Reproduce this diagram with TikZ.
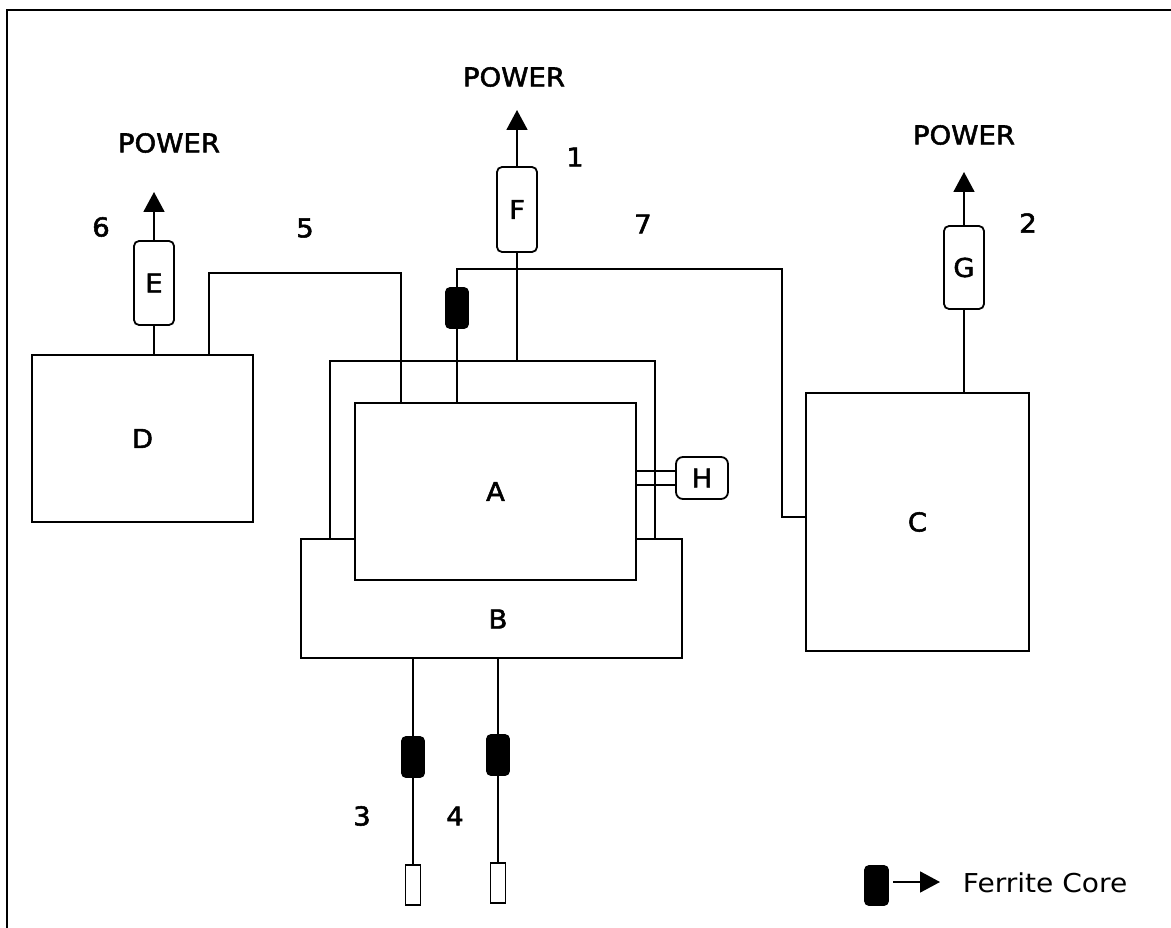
\documentclass[tikz,border=0pt]{standalone}
\usepackage{fontspec}
\setmainfont{DejaVu Sans}[FakeStretch=1.06,FakeBold=2]
\newfontfamily\legendfont{DejaVu Sans}[FakeStretch=1.08]
\usetikzlibrary{arrows.meta}
\begin{document}
\begin{tikzpicture}[x=1pt,y=-1pt,line width=1.8pt,
  lbl/.style={font=\fontsize{26}{30}\selectfont,inner sep=0pt},
  blk/.style={draw,fill=white,inner sep=0pt,font=\fontsize{26}{30}\selectfont},
  filt/.style={draw,fill=white,rounded corners=5pt,inner sep=0pt,minimum width=40pt,minimum height=84pt,font=\fontsize{26}{30}\selectfont},
  ferrite/.style={draw,fill=black,rounded corners=4pt,inner sep=0pt,minimum width=22pt,minimum height=40pt},
  plug/.style={draw,fill=white,inner sep=0pt,minimum width=15pt,minimum height=40pt,line width=1.4pt},
  pwr/.style={-{Triangle[length=20pt,width=21pt]}}]
\path[use as bounding box] (0,0) rectangle (1171,928);
% frame
\draw (7,928) -- (7,10) -- (1171,10);

% D and E
\node[blk,minimum width=221pt,minimum height=167pt] (D) at (142.5,438.5) {D};
\node[filt] (E) at (154,283) {E};
\coordinate (Etip) at (154,192);
\draw (E.south) -- (D.north -| E.south);
\draw[pwr] (E.north) -- (Etip);
\node[lbl] (pw1) at (169,143) {POWER};
\node[lbl] (n6) at (101,227) {6};
\node[lbl] (n5) at (305,228) {5};

% B, frame of A, A
\node[blk,minimum width=381pt,minimum height=119pt] (B) at (491.5,598.5) {};
\node[lbl] (Blbl) at (498,619) {B};
\coordinate (Ubl) at (330,539);
\coordinate (Utl) at (330,361);
\coordinate (Utr) at (655,361);
\coordinate (Ubr) at (655,539);
\draw (Ubl) -- (Utl) -- (Utr) -- (Ubr);
\node[blk,minimum width=281pt,minimum height=177pt] (A) at (495.5,491.5) {A};

% C
\node[blk,minimum width=223pt,minimum height=258pt] (C) at (917.5,522) {C};

% line 5
\coordinate (c5a) at (209,273);
\coordinate (c5b) at (401,273);
\draw (D.north -| c5a) -- (c5a) -- (c5b) -- (A.north -| c5b);

% F
\node[filt,minimum height=85pt] (F) at (517,209.5) {F};
\coordinate (Ftip) at (517,110);
\draw[pwr] (F.north) -- (Ftip);
\draw (F.south) -- (Utl -| F.south);
\node[lbl] (pw2) at (514,77) {POWER};
\node[lbl] (n1) at (575,157) {1};
\node[lbl] (n7) at (643,224) {7};

% line 7
\coordinate (c7a) at (457,269);
\coordinate (c7b) at (782,269);
\coordinate (c7c) at (782,517);
\draw (A.north -| c7a) -- (c7a) -- (c7b) -- (c7c) -- (C.west |- c7c);
\node[ferrite] (f7) at (457,308) {};

% G
\node[filt,minimum height=83pt] (G) at (964,267.5) {G};
\coordinate (Gtip) at (964,172);
\draw[pwr] (G.north) -- (Gtip);
\draw (G.south) -- (C.north -| G.south);
\node[lbl] (pw3) at (964,135) {POWER};
\node[lbl] (n2) at (1028,223) {2};

% H
\node[blk,rounded corners=7pt,minimum width=52pt,minimum height=42pt] (H) at (702,478) {H};
\coordinate (h1) at (676,471);
\coordinate (h2) at (676,485);
\draw (A.east |- h1) -- (H.west |- h1);
\draw (A.east |- h2) -- (H.west |- h2);

% bottom cables
\node[ferrite] (f3) at (413,757) {};
\node[ferrite] (f4) at (498,755) {};
\node[plug] (p3) at (413,885) {};
\node[plug] (p4) at (498,883) {};
\draw (B.south -| f3) -- (f3.north);
\draw (f3.south) -- (p3.north);
\draw (B.south -| f4) -- (f4.north);
\draw (f4.south) -- (p4.north);
\node[lbl] (n3) at (362,816) {3};
\node[lbl] (n4) at (455,816) {4};

% legend
\node[ferrite,minimum width=23pt,minimum height=39pt] (lf) at (876.5,885.5) {};
\coordinate (la) at (893,882);
\coordinate (lt) at (940,882);
\draw[pwr] (la) -- (lt);
\node[lbl,anchor=west,font=\legendfont\fontsize{26}{30}\selectfont] (lg) at (962,883) {Ferrite Core};
\end{tikzpicture}
\end{document}
